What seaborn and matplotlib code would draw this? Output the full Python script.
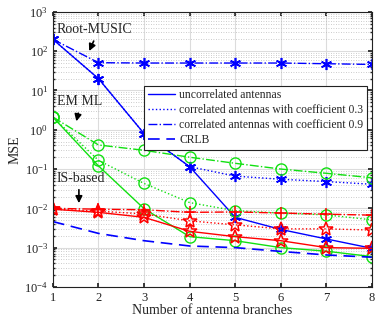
import numpy as np
import pandas as pd
import matplotlib
matplotlib.use("Agg")
import matplotlib.pyplot as plt
from matplotlib.lines import Line2D
from matplotlib.patches import FancyArrowPatch
from matplotlib.ticker import LogLocator, NullFormatter
import seaborn as sns

branches = [1, 2, 3, 4, 5, 6, 7, 8]
y_ticks = [1e-4, 1e-3, 1e-2, 1e-1, 1e0, 1e1, 1e2, 1e3]

# Root-MUSIC
music_uncorr = [200, 20, 0.8, 0.115, 0.0059, 0.0029, 0.00166, 0.00096]
music_c03 = [200, 20, 0.8, 0.115, 0.066, 0.055, 0.048, 0.041]
music_c09 = [200, 51, 50, 50, 50, 50, 48, 46]

# EM ML
em_uncorr = [2.1, 0.12, 0.0098, 0.0019, 0.0015, 0.001, 0.00081, 0.00059]
em_c03 = [2.1, 0.166, 0.043, 0.014, 0.0087, 0.0076, 0.0068, 0.0051]
em_c09 = [2.1, 0.41, 0.30, 0.20, 0.14, 0.10, 0.078, 0.06]

# IS-based
is_uncorr = [0.0095, 0.0079, 0.0059, 0.0026, 0.0019, 0.0015, 0.001, 0.00096]
is_c03 = [0.0095, 0.0085, 0.0072, 0.0048, 0.0038, 0.0030, 0.0030, 0.0028]
is_c09 = [0.010, 0.0095, 0.0092, 0.0079, 0.0081, 0.0076, 0.0071, 0.0067]

crlb = [0.0046, 0.0023, 0.0015, 0.0011, 0.001, 0.0008, 0.00065, 0.00057]

legend_labels = ["uncorrelated antennas",
                 "correlated antennas with coefficient 0.3",
                 "correlated antennas with coefficient 0.9",
                 "CRLB"]

sns.set_theme(style="ticks")
plt.rcParams['font.family'] = ['Liberation Serif', 'DejaVu Serif']
plt.rcParams['mathtext.fontset'] = 'stix'

fig = plt.figure(figsize=(3.78, 3.22), dpi=100)
ax = fig.add_axes([0.140, 0.109, 0.844, 0.854])

BLUE, GREEN, RED = "#0000ff", "#11e011", "#ff0000"
asterisk = (6, 2, 0)


def draw(vals, color, ls, marker, ms, mew=1.0):
    sns.lineplot(x=branches, y=vals, ax=ax, color=color, linestyle=ls,
                 marker=marker, markersize=ms, markerfacecolor="none",
                 markeredgecolor=color, markeredgewidth=mew, linewidth=1.0,
                 errorbar=None)


draw(music_uncorr, BLUE, "-", asterisk, 8, 1.2)
draw(music_c03, BLUE, ":", asterisk, 8, 1.2)
draw(music_c09, BLUE, "-.", asterisk, 8, 1.2)

draw(em_uncorr, GREEN, "-", "o", 8)
draw(em_c03, GREEN, ":", "o", 8)
draw(em_c09, GREEN, "-.", "o", 8)

draw(is_uncorr, RED, "-", "*", 10, 1.1)
draw(is_c03, RED, ":", "*", 10, 1.1)
draw(is_c09, RED, "-.", "+", 9, 1.1)

sns.lineplot(x=branches, y=crlb, ax=ax, color=BLUE, linewidth=1.2,
             errorbar=None).lines[-1].set_dashes([7, 4])

ax.set_yscale("log")
ax.set_xlim(1, 8)
ax.set_ylim(1e-4, 1e3)
ax.set_xticks(branches)
ax.set_yticks(y_ticks)
ax.yaxis.set_minor_locator(LogLocator(base=10, subs=np.arange(2, 10), numticks=20))
ax.yaxis.set_minor_formatter(NullFormatter())
ax.set_ylim(1e-4, 1e3)

ax.grid(True, which="major", color="#dcdcdc", linewidth=0.8, linestyle="-")
ax.grid(True, which="minor", axis="y", color="#bbbbbb", linewidth=0.6, linestyle=(0, (1, 2)))
ax.set_axisbelow(True)
for s in ax.spines.values():
    s.set_color("#222222")
    s.set_linewidth(0.8)
ax.tick_params(which="both", direction="in", top=True, right=True, labelsize=9,
               colors="#222222", length=3)
ax.tick_params(which="minor", length=1.5)
ax.set_xlabel("Number of antenna branches", fontsize=10, labelpad=0)
ax.set_ylabel("MSE", fontsize=10, labelpad=2)

handles = [Line2D([], [], color=BLUE, lw=1.0, ls="-"),
           Line2D([], [], color=BLUE, lw=1.0, ls=":"),
           Line2D([], [], color=BLUE, lw=1.0, ls="-."),
           Line2D([], [], color=BLUE, lw=1.2, dashes=[7, 4])]
leg = ax.legend(handles, legend_labels, loc="upper right",
                bbox_to_anchor=(0.984, 0.731), fontsize=8.4, frameon=True,
                fancybox=False, framealpha=1, edgecolor="#222222",
                handlelength=2.3, handletextpad=0.4, borderpad=0.3,
                labelspacing=0.25, borderaxespad=0)
leg.get_frame().set_linewidth(0.8)


def arrow(tail, tip):
    ax.add_patch(FancyArrowPatch(tail, tip, arrowstyle="-|>", color="black",
                                 lw=1.2, mutation_scale=10))


ax.text(1.08, 350, "Root-MUSIC", fontsize=10, va="center", ha="left")
arrow((1.92, 210), (1.77, 87))
ax.text(1.08, 5.3, "EM ML", fontsize=10, va="center", ha="left")
arrow((1.57, 3.1), (1.5, 1.4))
ax.text(1.08, 0.056, "IS-based", fontsize=10, va="center", ha="left")
arrow((1.57, 0.035), (1.57, 0.0115))

fig.savefig("out.png", dpi=100)
